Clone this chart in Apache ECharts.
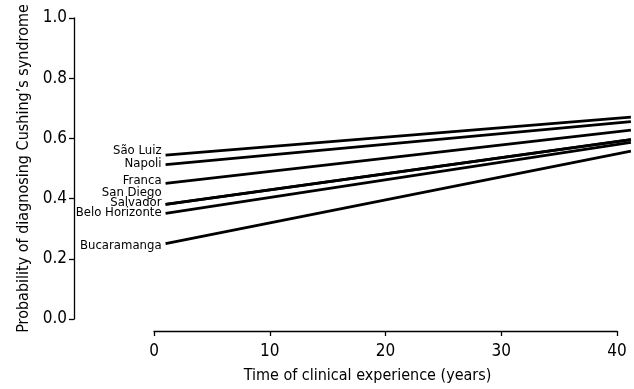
<!DOCTYPE html>
<html>
<head>
<meta charset="utf-8">
<script src="https://cdn.jsdelivr.net/npm/echarts@6/dist/echarts.min.js"></script>
<style>html,body{margin:0;padding:0;background:#fff}#c{width:634px;height:389px}</style>
</head>
<body>
<div id="c"></div>
<script>
const years = [1, 41.2];
const cities = ['São Luiz', 'Napoli', 'Franca', 'San Diego', 'Salvador', 'Belo Horizonte', 'Bucaramanga'];
const saoLuiz = [0.549, 0.674];
const napoli = [0.518, 0.659];
const franca = [0.456, 0.631];
const sanDiego = [0.387, 0.600];
const salvador = [0.387, 0.600];
const beloHorizonte = [0.357, 0.591];
const bucaramanga = [0.258, 0.562];
const xTicks = [0, 10, 20, 30, 40];
const yTicks = [0, 0.2, 0.4, 0.6, 0.8, 1.0];

const seriesValues = [saoLuiz, napoli, franca, sanDiego, salvador, beloHorizonte, bucaramanga];
const labelDy = [-4, -1, -3, -12, -2, -1, 2];
const FONT = '"DejaVu Sans Condensed", "Liberation Sans Narrow", sans-serif';

const W = 634, GL = 154, GR = 17, GR2 = 4, GT = 18, GB = 67;
const xMax = xTicks[xTicks.length - 1];
const xMax2 = xMax * (W - GL - GR2) / (W - GL - GR);

const chart = echarts.init(document.getElementById('c'), null, {renderer: 'canvas'});
chart.setOption({
  animation: false,
  backgroundColor: '#fff',
  grid: [
    {left: GL, right: GR, top: GT, bottom: GB},
    {left: GL, right: GR2, top: GT, bottom: GB}
  ],
  xAxis: [{
    gridIndex: 0,
    type: 'value', min: xTicks[0], max: xMax, interval: 10,
    offset: 12,
    name: 'Time of clinical experience (years)',
    nameLocation: 'middle', nameGap: 37,
    nameTextStyle: {fontFamily: FONT, fontSize: 16, color: '#000', padding: [0, 36, 0, 0]},
    axisLine: {show: true, onZero: false, lineStyle: {color: '#000', width: 1.3}},
    axisTick: {show: true, length: 5, lineStyle: {color: '#000', width: 1.3}},
    axisLabel: {fontFamily: FONT, fontSize: 17, color: '#000', margin: 12},
    splitLine: {show: false}
  }, {
    gridIndex: 1, type: 'value', min: 0, max: xMax2, show: false
  }],
  yAxis: [{
    gridIndex: 0,
    type: 'value', min: yTicks[0], max: yTicks[yTicks.length - 1], interval: 0.2,
    offset: 80,
    name: 'Probability of diagnosing Cushing\u2019s syndrome',
    nameLocation: 'middle', nameGap: 38,
    nameTextStyle: {fontFamily: FONT, fontSize: 16, color: '#000'},
    axisLine: {show: true, onZero: false, lineStyle: {color: '#000', width: 1.3}},
    axisTick: {show: true, length: 5, lineStyle: {color: '#000', width: 1.3}},
    axisLabel: {fontFamily: FONT, fontSize: 17, color: '#000', margin: 7,
      formatter: v => v.toFixed(1)},
    splitLine: {show: false}
  }, {
    gridIndex: 1, type: 'value', min: yTicks[0], max: yTicks[yTicks.length - 1], show: false
  }],
  series: cities.map((name, i) => ({
    name: name,
    type: 'line',
    xAxisIndex: 1, yAxisIndex: 1,
    symbol: 'circle',
    symbolSize: 0,
    showSymbol: true,
    itemStyle: {color: '#000'},
    lineStyle: {color: '#000', width: 2.8},
    label: {show: false},
    data: years.map((x, j) => {
      const item = {value: [x, seriesValues[i][j]]};
      if (j === 0) {
        item.label = {show: true, position: 'left', distance: 4, offset: [0, labelDy[i]],
          formatter: name, fontFamily: FONT, fontSize: 13, color: '#000'};
      }
      return item;
    })
  }))
});
</script>
</body>
</html>
